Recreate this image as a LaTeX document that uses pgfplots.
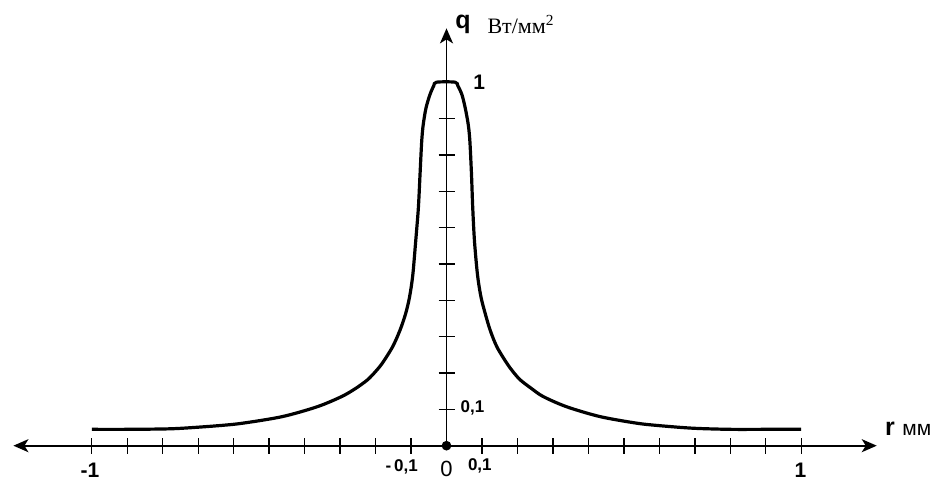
\documentclass[border=0pt]{standalone}
\usepackage{fontspec}
\setmainfont{Liberation Sans}
\newfontfamily\serifru{Liberation Serif}
\usepackage{pgfplots}
\pgfplotsset{compat=1.18}
\usetikzlibrary{arrows.meta}

\begin{document}
\begin{tikzpicture}[>={Stealth[length=7.5pt,width=6.5pt,inset=2pt]}]
\begin{axis}[
  x=177.35pt, y=181.75pt,
  xmin=-1.221, xmax=1.213, ymin=0, ymax=1.148,
  axis lines=middle,
  axis line style={line width=0.9pt, black},
  x axis line style={<->},
  y axis line style={->},
  xtick={-1,-0.9,...,1}, ytick={0.1,0.2,...,1},
  xticklabels={}, yticklabels={},
  tick align=center,
  major tick length=8pt,
  tick style={line width=0.7pt, black},
  clip=false,
]
% heat flux density profile q(r)
\addplot[line width=1.6pt, black, smooth, tension=0.5] coordinates {
  (-1,0.045) (-0.9,0.045) (-0.8,0.046) (-0.745,0.048) (-0.644,0.055)
  (-0.574,0.062) (-0.463,0.080) (-0.365,0.107) (-0.296,0.135)
  (-0.257,0.157) (-0.223,0.181) (-0.201,0.203) (-0.181,0.227)
  (-0.152,0.272) (-0.131,0.318)
  (-0.115,0.364) (-0.104,0.41) (-0.095,0.47) (-0.087,0.561)
  (-0.0794,0.653) (-0.0747,0.745) (-0.070,0.836) (-0.0658,0.882)
  (-0.058,0.928) (-0.047,0.965) (-0.036,0.99) (-0.028,1)
  (0.024,1) (0.032,0.99) (0.0437,0.965) (0.053,0.928)
  (0.0615,0.882) (0.066,0.836) (0.0705,0.745) (0.074,0.653)
  (0.079,0.561) (0.0874,0.47) (0.097,0.41) (0.109,0.364)
  (0.123,0.318) (0.142,0.272) (0.170,0.227) (0.188,0.203)
  (0.208,0.181) (0.240,0.157)
  (0.273,0.135) (0.339,0.107) (0.433,0.080) (0.536,0.062)
  (0.602,0.055) (0.696,0.048) (0.8,0.045) (0.9,0.045) (1,0.045)
};
% origin
\addplot[only marks, mark=*, mark size=2.2pt, black] coordinates {(0,0)};

% tick labels
\node[font=\bfseries\fontsize{10.5}{12}\selectfont] at (axis cs:-1.005,-0.067) {-1};
\node[font=\bfseries\fontsize{10.5}{12}\selectfont] at (axis cs:0.998,-0.067) {1};
\node[font=\bfseries\fontsize{8.5}{10}\selectfont] at (axis cs:-0.126,-0.058) {-\,0,1};
\node[font=\fontsize{11}{13}\selectfont, inner sep=1pt] at (axis cs:0,-0.065) {0};
\node[font=\bfseries\fontsize{8.5}{10}\selectfont] at (axis cs:0.094,-0.056) {0,1};
\node[font=\bfseries\fontsize{8.5}{10}\selectfont] at (axis cs:0.073,0.103) {0,1};
\node[font=\bfseries\fontsize{10.5}{12}\selectfont] at (axis cs:0.092,1.001) {1};

% axis names
\node[anchor=base, font=\bfseries\fontsize{12.5}{14}\selectfont] at (axis cs:0.0465,1.148) {q};
\node[anchor=base, font=\serifru\fontsize{11}{13}\selectfont] at (axis cs:0.21,1.135) {Вт/мм\textsuperscript{2}};
\node[anchor=base, font=\bfseries\fontsize{12.5}{14}\selectfont] at (axis cs:1.25,0.0294) {r};
\node[anchor=base, font=\fontsize{10.5}{12}\selectfont] at (axis cs:1.326,0.0294) {мм};

\coordinate (bl) at (axis cs:-1.2588,-0.0916);
\coordinate (tr) at (axis cs:1.3744,1.2261);
\end{axis}
\pgfresetboundingbox
\useasboundingbox (bl) rectangle (tr);
\end{tikzpicture}
\end{document}
